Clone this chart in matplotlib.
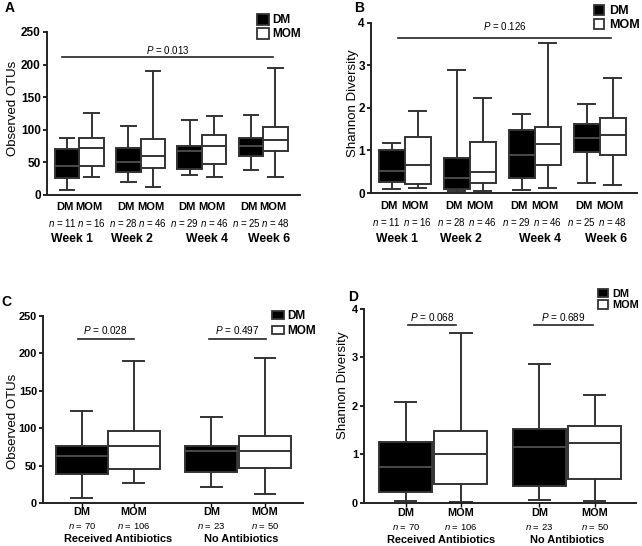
import matplotlib
matplotlib.use('Agg')
import matplotlib.pyplot as plt
from matplotlib.patches import Patch

plt.rcParams['font.family'] = 'Liberation Sans'
plt.rcParams['mathtext.fontset'] = 'custom'
plt.rcParams['mathtext.it'] = 'Liberation Sans:italic'
plt.rcParams['mathtext.rm'] = 'Liberation Sans'

# box stats: (whisker low, q1, median, q3, whisker high)
weeks = ['Week 1', 'Week 2', 'Week 4', 'Week 6']
n_dm_week = [11, 28, 29, 25]
n_mom_week = [16, 46, 46, 48]
otu_dm_week = [(8, 26.5, 45, 70, 87), (20, 35.5, 50, 72.5, 106),
               (30.5, 40, 67, 74.5, 115), (38, 60, 75.5, 87, 122.5)]
otu_mom_week = [(27.5, 44, 72, 87, 126), (13, 42, 60, 86, 190),
                (27.5, 47, 75, 92, 121), (28, 67, 85, 104.5, 195)]
sh_dm_week = [(0.09, 0.27, 0.51, 1.01, 1.18), (0.05, 0.09, 0.36, 0.82, 2.88),
              (0.07, 0.36, 0.89, 1.48, 1.85), (0.23, 0.96, 1.28, 1.61, 2.10)]
sh_mom_week = [(0.12, 0.20, 0.65, 1.32, 1.92), (0.04, 0.23, 0.50, 1.20, 2.24),
               (0.11, 0.65, 1.15, 1.54, 3.53), (0.18, 0.89, 1.37, 1.76, 2.70)]

groups = ['Received Antibiotics', 'No Antibiotics']
n_dm_abx = [70, 23]
n_mom_abx = [106, 50]
otu_dm_abx = [(7, 39, 62.3, 76, 122.3), (21.8, 41, 69, 76.5, 114.3)]
otu_mom_abx = [(26.2, 45.8, 76, 96.5, 189), (12.5, 46.3, 69.4, 89.4, 194)]
sh_dm_abx = [(0.05, 0.22, 0.75, 1.26, 2.09), (0.07, 0.34, 1.15, 1.53, 2.87)]
sh_mom_abx = [(0.03, 0.40, 1.02, 1.48, 3.51), (0.05, 0.49, 1.23, 1.58, 2.23)]

# p-value brackets: (x start, x end, y, label)
p_a = [(-0.2, 8.4, 212, '0.013')]
p_b = [(0.25, 8.44, 3.64, '0.126')]
p_c = [(-0.08, 1.0, 218.4, '0.028'), (2.45, 3.54, 218.4, '0.497')]
p_d = [(0.04, 0.95, 3.66, '0.068'), (2.42, 3.52, 3.66, '0.689')]

EDGE = '#333333'


def stats(t):
    lo, q1, med, q3, hi = t
    return dict(whislo=lo, q1=q1, med=med, q3=q3, whishi=hi, fliers=[])


def boxes(ax, data, pos, face, medc, capw):
    ax.bxp([stats(t) for t in data], positions=pos, widths=1.0,
           patch_artist=True, showfliers=False, manage_ticks=False,
           capwidths=capw,
           boxprops=dict(facecolor=face, edgecolor=EDGE, linewidth=1.4),
           whiskerprops=dict(color=EDGE, linewidth=1.4),
           capprops=dict(color=EDGE, linewidth=1.4),
           medianprops=dict(color=medc, linewidth=1.4))


def style(ax, ylim, yticks, fs):
    for s in ['top', 'right']:
        ax.spines[s].set_visible(False)
    for s in ['left', 'bottom']:
        ax.spines[s].set_linewidth(1.4)
        ax.spines[s].set_color('#222222')
    ax.set_ylim(*ylim)
    ax.set_yticks(yticks)
    ax.tick_params(axis='y', length=3, width=1.2, pad=1.5, labelsize=fs)
    for lb in ax.get_yticklabels():
        lb.set_fontweight('bold')


def brackets(ax, plist, dy, fs):
    for x0, x1, y, lab in plist:
        ax.plot([x0, x1], [y, y], color='#222222', lw=1.2, clip_on=False)
        ax.text((x0 + x1) / 2, y + dy, '$P$ = ' + lab, ha='center',
                va='center', fontsize=fs)


def legend(ax, fig, xy, fs, hl, hh, ls):
    h = [Patch(facecolor='black', edgecolor=EDGE, linewidth=1.3),
         Patch(facecolor='white', edgecolor=EDGE, linewidth=1.3)]
    ax.legend(h, ['DM', 'MOM'], loc='upper left', bbox_to_anchor=xy,
              bbox_transform=fig.transFigure, frameon=False, borderpad=0,
              borderaxespad=0, handlelength=hl, handleheight=hh,
              handletextpad=0.35, labelspacing=ls,
              prop=dict(weight='bold', size=fs))


fig = plt.figure(figsize=(6.42, 5.46), dpi=100)
axA = fig.add_axes([0.0732, 0.6429, 0.394, 0.2985])
axB = fig.add_axes([0.578, 0.6465, 0.4143, 0.312])
axC = fig.add_axes([0.0674, 0.0788, 0.4045, 0.343])
axD = fig.add_axes([0.5675, 0.0788, 0.4232, 0.3553])

# ---- week panels ----
dm_pos = [0, 2.5, 5, 7.5]
mom_pos = [1, 3.5, 6, 8.5]
week_shift = [-0.3, -0.35, 0.2, 0.25]
for ax, dm, mom, ylim, yt, ylab, lx, ly, pl, pdy, capw, xl in [
        (axA, otu_dm_week, otu_mom_week, (0, 250), range(0, 251, 50),
         'Observed OTUs', -0.133, 0.53, p_a, 11, 0.6, (-0.82, 9.5)),
        (axB, sh_dm_week, sh_mom_week, (0, 4), range(0, 5),
         'Shannon Diversity', -0.069, 0.527, p_b, 0.27, 0.65, (-0.79, 9.44))]:
    boxes(ax, dm, dm_pos, 'black', '#4a4a4a', capw)
    boxes(ax, mom, mom_pos, 'white', EDGE, capw)
    style(ax, ylim, yt, 8.5)
    ax.set_xlim(*xl)
    ax.set_xticks([])
    ax.text(lx, ly, ylab, rotation=90, ha='center', va='center',
            fontsize=9.5, transform=ax.transAxes)
    brackets(ax, pl, pdy, 7)
    tr = ax.get_xaxis_transform()
    for i in range(4):
        ax.text(dm_pos[i] - 0.1, -0.075, 'DM', ha='center', va='center',
                fontsize=8, fontweight='bold', transform=tr)
        ax.text(mom_pos[i] - 0.1, -0.075, 'MOM', ha='center', va='center',
                fontsize=8, fontweight='bold', transform=tr)
        ax.text(dm_pos[i] - 0.2, -0.17, '$n$ = %d' % n_dm_week[i],
                ha='center', va='center', fontsize=7, transform=tr)
        ax.text(mom_pos[i], -0.17, '$n$ = %d' % n_mom_week[i],
                ha='center', va='center', fontsize=7, transform=tr)
        ax.text((dm_pos[i] + mom_pos[i]) / 2 + week_shift[i], -0.268,
                weeks[i], ha='center', va='center', fontsize=8.8,
                fontweight='bold', transform=tr)

# ---- antibiotic panels ----
for ax, dm, mom, ylim, yt, ylab, lx, ly, pl, pdy, dpos, mpos, xl, gshift in [
        (axC, otu_dm_abx, otu_mom_abx, (0, 250), range(0, 251, 50),
         'Observed OTUs', -0.116, 0.436, p_c, 13, [0, 2.49], [1, 3.52],
         (-0.74, 4.25), [0.2, 0.05]),
        (axD, sh_dm_abx, sh_mom_abx, (0, 4), range(0, 5),
         'Shannon Diversity', -0.08, 0.606, p_d, 0.17, [0, 2.52], [1.04, 3.56],
         (-0.78, 4.34), [0.15, 0.0])]:
    boxes(ax, dm, dpos, 'black', '#4a4a4a', 0.4)
    boxes(ax, mom, mpos, 'white', EDGE, 0.4)
    style(ax, ylim, yt, 7.9)
    ax.set_xlim(*xl)
    ax.set_xticks(dpos + mpos)
    ax.tick_params(axis='x', length=3, width=1.0, labelbottom=False)
    ax.text(lx, ly, ylab, rotation=90, ha='center', va='center',
            fontsize=9.5, transform=ax.transAxes)
    brackets(ax, pl, pdy, 7.2)
    tr = ax.get_xaxis_transform()
    for i in range(2):
        ax.text(dpos[i], -0.05, 'DM', ha='center', va='center',
                fontsize=7.8, fontweight='bold', transform=tr)
        ax.text(mpos[i], -0.05, 'MOM', ha='center', va='center',
                fontsize=7.8, fontweight='bold', transform=tr)
        ax.text(dpos[i], -0.122, '$n$ = %d' % n_dm_abx[i],
                ha='center', va='center', fontsize=6.8, transform=tr)
        ax.text(mpos[i], -0.122, '$n$ = %d' % n_mom_abx[i],
                ha='center', va='center', fontsize=6.8, transform=tr)
        ax.text((dpos[i] + mpos[i]) / 2 + gshift[i], -0.192, groups[i],
                ha='center', va='center', fontsize=7.9, fontweight='bold',
                transform=tr)

legend(axA, fig, (0.4, 1 - 14 / 546), 8.5, 1.0, 1.0, 0.15)
legend(axB, fig, (593.7 / 642, 1 - 5 / 546), 9, 0.85, 0.85, 0.15)
legend(axC, fig, (271.7 / 642, 1 - 310 / 546), 8.5, 1.0, 0.75, 0.25)
legend(axD, fig, (597.7 / 642, 1 - 288.5 / 546), 7.8, 0.95, 0.9, 0.1)

for lab, x, y in [('A', 10, 7.5), ('B', 359, 7.5), ('C', 6.7, 302), ('D', 353.5, 297)]:
    fig.text(x / 642, 1 - y / 546, lab, ha='center', va='center',
             fontsize=10, fontweight='bold')

fig.savefig('out.png', dpi=100)
